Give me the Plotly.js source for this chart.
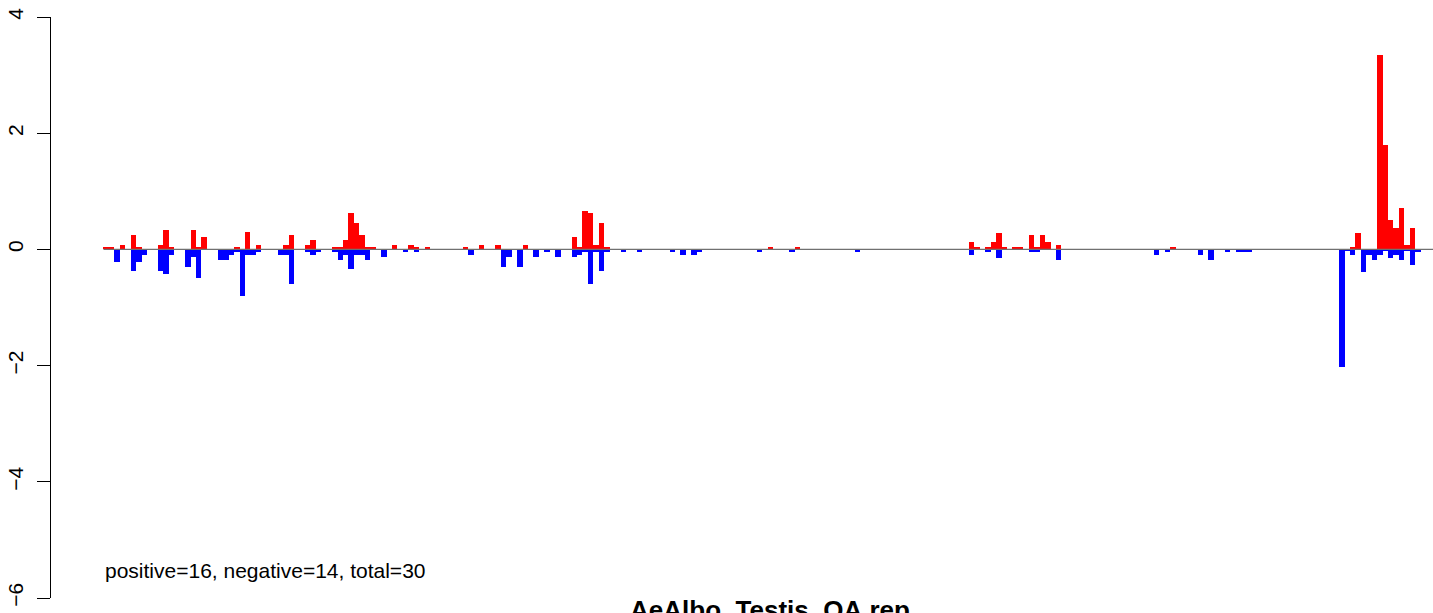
<!DOCTYPE html>
<html>
<head>
<meta charset="utf-8">
<script src="https://cdn.plot.ly/plotly-3.0.1.min.js"></script>
<style>
  html, body { margin: 0; padding: 0; background: #ffffff; }
  #chart { width: 1433px; height: 613px; }
</style>
</head>
<body>
<div id="chart"></div>
<script>
// Bin positions (index along the genome) and values
const posBins = [0,1,3,5,6,10,11,12,16,17,18,24,26,28,33,34,37,38,42,43,44,45,46,47,48,49,53,56,57,59,66,69,72,77,86,87,88,89,90,91,92,122,127,159,160,162,163,164,165,167,168,170,171,172,173,175,196,229,230,234,235,236,237,238,239,240];
const posVals = [0.04,0.04,0.075,0.25,0.04,0.075,0.33,0.04,0.33,0.04,0.21,0.04,0.30,0.075,0.075,0.25,0.075,0.16,0.04,0.04,0.16,0.63,0.45,0.25,0.04,0.04,0.075,0.075,0.04,0.04,0.04,0.075,0.075,0.075,0.21,0.04,0.66,0.63,0.075,0.45,0.04,0.04,0.04,0.12,0.04,0.04,0.12,0.29,0.04,0.04,0.04,0.24,0.04,0.24,0.12,0.07,0.04,0.035,0.29,3.34,1.79,0.50,0.36,0.71,0.07,0.36];

const negBins = [2,5,6,7,10,11,12,15,16,17,21,22,23,24,25,26,27,28,32,33,34,37,38,39,42,43,44,45,46,47,48,51,55,57,67,73,74,76,79,81,83,86,87,88,89,90,91,92,95,98,104,106,108,109,120,126,138,159,162,164,170,171,175,193,195,201,203,206,208,209,210,227,228,229,231,232,233,234,235,236,237,238,239,240,241];
const negVals = [-0.21,-0.38,-0.21,-0.09,-0.38,-0.42,-0.09,-0.30,-0.13,-0.50,-0.18,-0.18,-0.09,-0.04,-0.80,-0.09,-0.09,-0.04,-0.09,-0.09,-0.60,-0.04,-0.09,-0.04,-0.04,-0.18,-0.09,-0.33,-0.09,-0.09,-0.18,-0.13,-0.04,-0.04,-0.09,-0.30,-0.13,-0.30,-0.13,-0.04,-0.13,-0.13,-0.09,-0.04,-0.60,-0.04,-0.38,-0.04,-0.04,-0.04,-0.04,-0.09,-0.09,-0.04,-0.04,-0.04,-0.04,-0.10,-0.05,-0.14,-0.05,-0.05,-0.19,-0.10,-0.05,-0.10,-0.19,-0.05,-0.05,-0.05,-0.05,-2.03,-0.03,-0.10,-0.39,-0.10,-0.19,-0.10,-0.03,-0.14,-0.10,-0.19,-0.03,-0.26,-0.05];

const yTicks = [-6, -4, -2, 0, 2, 4];
const chartTitle = 'AeAlbo_Testis_OA.rep';
const summaryText = 'positive=16, negative=14, total=30';

const FONT = 'Liberation Sans, Arial, Helvetica, sans-serif';
const xRange = [-10.14, 243.76];

const traces = [
  { type: 'bar', x: posBins, y: posVals, width: 1, marker: { color: '#ff0000', line: { width: 0 } }, hoverinfo: 'skip', showlegend: false },
  { type: 'bar', x: negBins, y: negVals, width: 1, marker: { color: '#0000ff', line: { width: 0 } }, hoverinfo: 'skip', showlegend: false }
];

const layout = {
  width: 1433, height: 613,
  margin: { l: 51, r: 0, t: 17, b: 15, pad: 0 },
  paper_bgcolor: '#ffffff', plot_bgcolor: '#ffffff',
  barmode: 'overlay', bargap: 0,
  showlegend: false,
  font: { family: FONT, color: '#000000', size: 21 },
  title: {
    text: '<b>' + chartTitle + '</b>',
    font: { family: FONT, size: 26, color: '#000000' },
    xref: 'container', yref: 'container',
    x: 770 / 1433, xanchor: 'center',
    y: (613 - 601) / 613, yanchor: 'top'
  },
  xaxis: { range: xRange, visible: false, showgrid: false, zeroline: false, fixedrange: true },
  yaxis: {
    range: [-6, 4], tickvals: yTicks, ticktext: yTicks.map(v => v < 0 ? '\u2212' + Math.abs(v) : String(v)),
    tickangle: -90, ticks: 'outside', ticklen: 13, tickwidth: 1, tickcolor: '#000000',
    ticklabelstandoff: 6,
    showline: true, linecolor: '#000000', linewidth: 1,
    showgrid: false, zeroline: false,
    tickfont: { family: FONT, size: 21, color: '#000000' },
    fixedrange: true
  },
  shapes: [
    { type: 'line', xref: 'x', yref: 'y', x0: -0.5, x1: xRange[1], y0: 0, y1: 0,
      line: { color: '#707070', width: 1.3 }, layer: 'above' }
  ],
  annotations: [
    { xref: 'x', yref: 'y', x: -0.5, y: -5.52, xanchor: 'left', yanchor: 'middle',
      text: summaryText, showarrow: false, font: { family: FONT, size: 21, color: '#000000' } }
  ]
};

Plotly.newPlot('chart', traces, layout, { displayModeBar: false, staticPlot: true });
</script>
</body>
</html>
